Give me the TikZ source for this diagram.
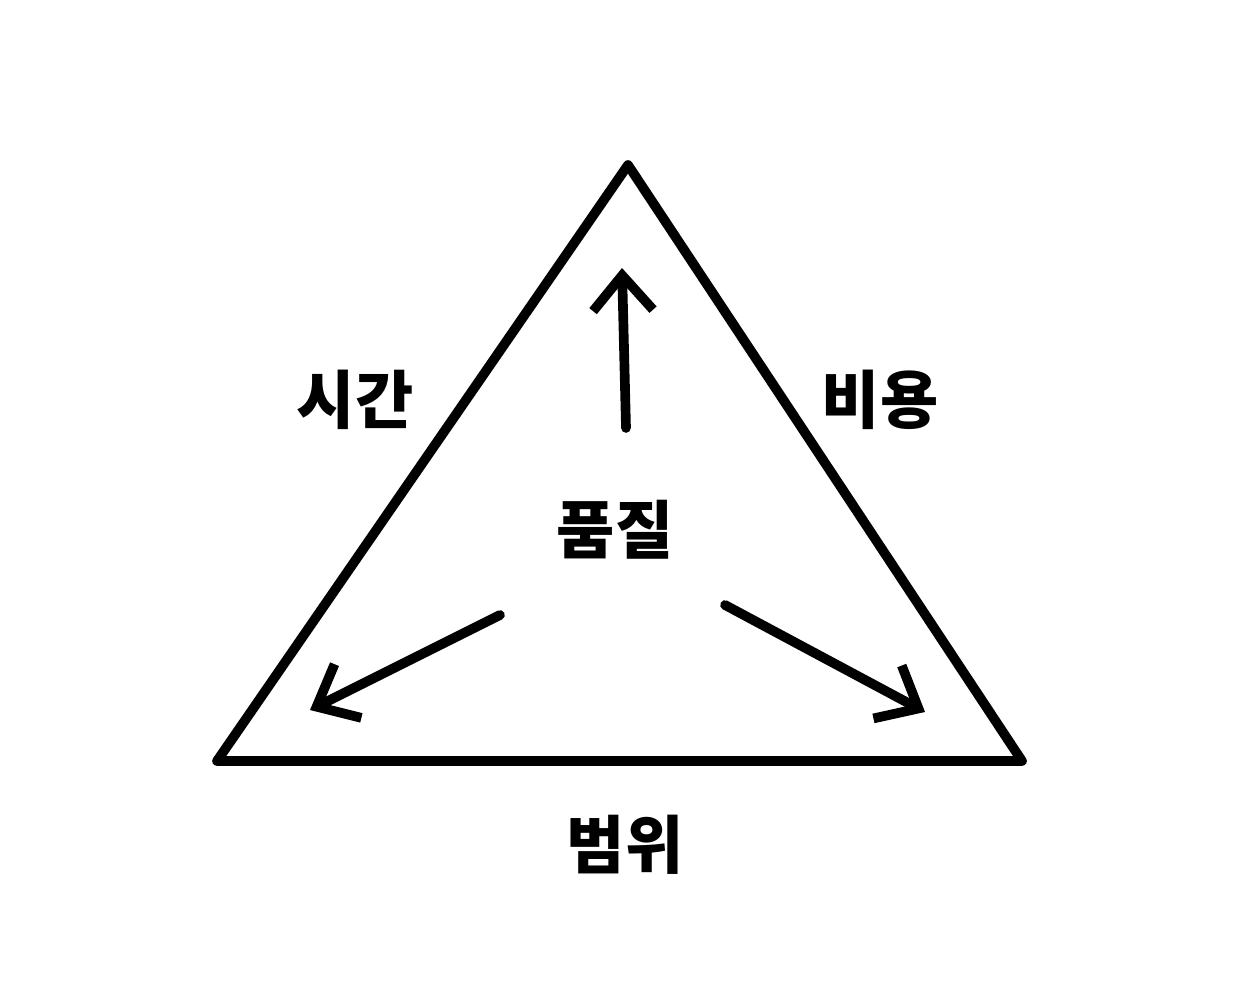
\documentclass[tikz,border=0pt]{standalone}
\usepackage{fontspec}
\usepackage{xcolor}
\usepackage{tikz}
\usetikzlibrary{arrows.meta, positioning}
\newfontfamily\korfont{Noto Sans CJK KR}
\definecolor{inkblack}{RGB}{0, 0, 0}

\begin{document}
\begin{tikzpicture}[
    edge/.style={line width=5.5pt, line cap=round, line join=round, inkblack},
    arrow/.style={edge, -{Straight Barb[length=7mm, width=12mm, line width=5.5pt]}},
    label/.style={font=\korfont\bfseries\fontsize{36}{42}\selectfont, inkblack, inner sep=0pt}
]
\useasboundingbox (0,0) rectangle (25.18,20);

% Corners of the triangle
\coordinate (top) at (12.56,16.7);
\coordinate (left) at (4.34,4.78);
\coordinate (right) at (20.44,4.78);

% Triangle
\draw[edge] (top) -- (right) -- (left) -- cycle;

% Labels
\node[label] (time) at (7.1,12.0) {시간};
\node[label] (cost) at (17.6,12.0) {비용};
\node[label] (scope) at (12.5,3.1) {범위};
\node[label] (quality) at (12.3,9.4) {품질};

% Arrow ends
\coordinate (uptail) at (12.52,11.44);
\coordinate (uphead) at (12.44,14.64);
\coordinate (lefttail) at (10.0,7.7);
\coordinate (lefthead) at (6.2,5.8);
\coordinate (righttail) at (14.5,7.9);
\coordinate (righthead) at (18.5,5.76);

% Arrows
\draw[arrow] (uptail) -- (uphead);
\draw[arrow] (lefttail) -- (lefthead);
\draw[arrow] (righttail) -- (righthead);
\end{tikzpicture}
\end{document}
